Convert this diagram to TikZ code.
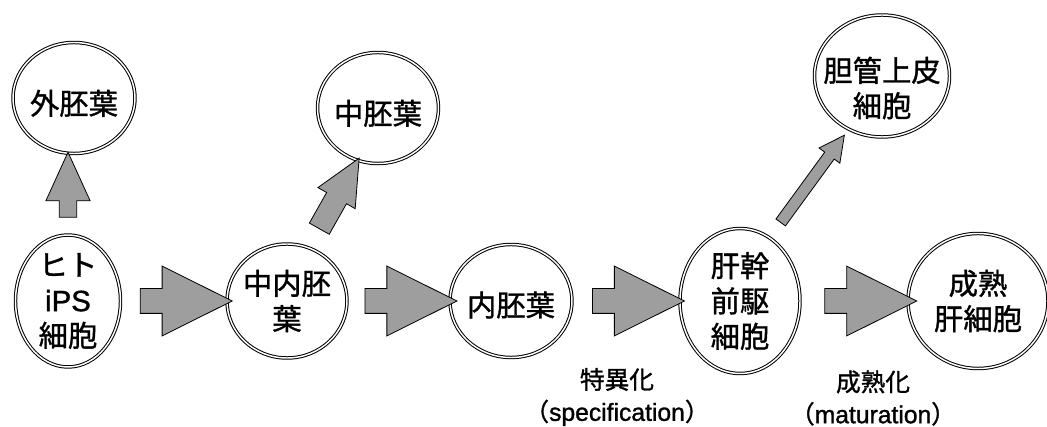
\documentclass[tikz,border=0pt]{standalone}
\usepackage{fontspec}
\setmainfont{Liberation Sans}[RawFeature={embolden=1.2}]
\newfontfamily\jp{Noto Sans CJK JP}[RawFeature={embolden=1.2}]
\usetikzlibrary{shapes.geometric, shapes.arrows, calc}

\begin{document}
\begin{tikzpicture}[
    x=0.75pt, y=-0.75pt,
    cell/.style={ellipse, draw, double=white, double distance=1.1pt, line width=0.75pt, inner sep=0pt, outer sep=0pt},
    celltext/.style={font=\jp\fontsize{22}{26.5}\selectfont, align=center, inner sep=0pt},
    steptext/.style={font=\jp\fontsize{18.5}{24}\selectfont, align=center, inner sep=0pt},
    blockarr/.style={single arrow, draw, fill=black!38, line width=0.6pt, single arrow head indent=0pt, inner xsep=0pt, outer sep=0pt, minimum width=0pt, sloped, allow upside down},
    mainarr/.style={blockarr, minimum height=69pt, inner ysep=9pt, single arrow head extend=16.9pt, single arrow tip angle=53}
]
    \useasboundingbox (0,0) rectangle (1047,427);

    % main row
    \node[cell, minimum width=78.75pt, minimum height=99pt, label={[celltext]center:ヒト\\{\normalfont iPS}\\細胞}] (ips) at (68,301) {};
    \node[cell, minimum width=90pt, minimum height=85.5pt, label={[celltext]center:中内胚\\葉}] (mesendo) at (287,301) {};
    \node[cell, minimum width=91.5pt, minimum height=84.75pt, label={[celltext, yshift=-3pt]center:内胚葉}] (endo) at (511,301) {};
    \node[cell, minimum width=90pt, minimum height=108.75pt, label={[celltext]center:肝幹\\前駆\\細胞}] (hepprog) at (740,301) {};
    \node[cell, minimum width=105pt, minimum height=101.25pt, label={[celltext]center:成熟\\肝細胞}] (mature) at (978,301) {};

    % side branches
    \node[cell, minimum width=91.5pt, minimum height=83.25pt, label={[celltext, yshift=-4pt]center:外胚葉}] (ecto) at (74,98) {};
    \node[cell, minimum width=90.75pt, minimum height=83.25pt, label={[celltext, yshift=-4pt]center:中胚葉}] (meso) at (378,108) {};
    \node[cell, minimum width=101.25pt, minimum height=91.5pt, label={[celltext, yshift=-9pt]center:胆管上皮\\細胞}] (bile) at (882,76) {};

    % arrows
    \path (ips.east) -- node[mainarr] {} (mesendo.west);
    \path (mesendo.east) -- node[mainarr] {} (endo.west);
    \path (endo.east) -- node[mainarr] {} (hepprog.west);
    \path (hepprog.east) -- node[mainarr, pos=0.54] {} (mature.west);

    \path (ips.north) -- node[blockarr, minimum height=48.75pt, inner ysep=6.2pt, single arrow head extend=10.1pt, single arrow tip angle=49] {} (ips.north |- ecto.south);
    \path (mesendo.68) -- node[blockarr, minimum height=60.75pt, inner ysep=8.25pt, single arrow head extend=7.5pt, single arrow tip angle=50] {} (meso.249);
    \path (hepprog.65) -- node[blockarr, minimum height=81pt, inner ysep=4.1pt, single arrow head extend=5.25pt, single arrow tip angle=54] {} (bile.238);

    % step labels
    \node[steptext] (spec) at (617,397) {特異化\\（{\normalfont specification}）};
    \node[steptext] (matur) at (873,398) {成熟化\\（{\normalfont maturation}）};
\end{tikzpicture}
\end{document}
